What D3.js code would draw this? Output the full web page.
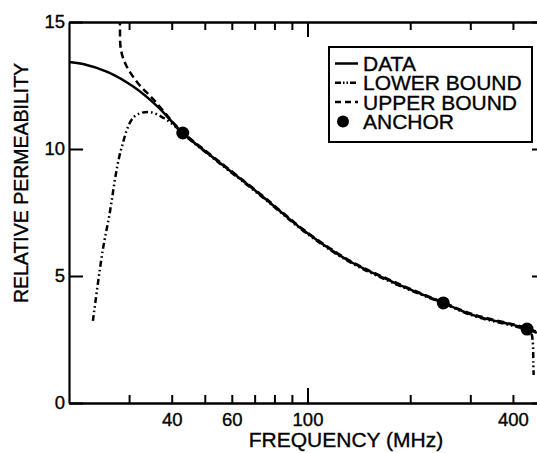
<!DOCTYPE html>
<html>
<head>
<meta charset="utf-8">
<script src="https://cdn.jsdelivr.net/npm/d3@7"></script>
<style>
  body { margin: 0; background: #fff; }
  svg { display: block; }
  text { font-family: "Liberation Sans", Arial, Helvetica, sans-serif; fill: #000; stroke: #000; stroke-width: 0.35px; }
</style>
</head>
<body>
<svg id="chart" width="537" height="453"></svg>
<script>
// measured data (MHz vs relative permeability)
const freqData = [20, 22, 26, 31, 36.5, 43.1, 55.7, 72.9, 84, 97.3, 130.9, 178, 250, 306, 433, 470];
const permData = [13.43, 13.35, 13.03, 12.44, 11.65, 10.63, 9.43, 8.19, 7.5, 6.8, 5.63, 4.76, 3.94, 3.46, 2.95, 2.76];

const freqLower = [23.5, 25.1, 26.2, 28.4, 31, 34.2, 37.9, 41.1, 43.1, 55.7, 72.9, 84, 97.3, 130.9, 178, 250, 306, 433, 452, 457, 459, 460];
const permLower = [3.23, 6.0, 7.32, 9.96, 11.26, 11.46, 11.22, 10.87, 10.6, 9.4, 8.16, 7.47, 6.77, 5.6, 4.73, 3.92, 3.43, 2.9, 2.75, 2.45, 1.6, 1.1];

const freqUpper = [28.1, 28.2, 28.4, 29.4, 31.8, 35.5, 39.8, 43.1, 55.7, 72.9, 84, 97.3, 130.9, 178, 250, 306, 433, 470];
const permUpper = [16, 14.9, 13.9, 13.3, 12.6, 11.93, 11.14, 10.66, 9.46, 8.22, 7.53, 6.83, 5.66, 4.79, 3.96, 3.49, 2.98, 2.8];

const freqAnchor = [43.1, 250, 440];
const permAnchor = [10.63, 3.94, 2.91];

const xMinorTicks = [30, 40, 50, 60, 70, 80, 90, 200, 300, 400];
const xMajorTicks = [100];
const xLabels = [40, 60, 100, 400];
const yTicks = [0, 5, 10, 15];

const svg = d3.select("#chart");
const m = { left: 69, right: 546, top: 22, bottom: 403 };

const x = d3.scaleLog().domain([20, 500]).range([m.left, m.right]);
const y = d3.scaleLinear().domain([0, 15]).range([m.bottom, m.top]);

svg.append("defs").append("clipPath").attr("id", "clip")
  .append("rect").attr("x", m.left).attr("y", m.top)
  .attr("width", m.right - m.left).attr("height", m.bottom - m.top);

function styleAxis(g) {
  g.selectAll("path.domain").attr("stroke", "#000").attr("stroke-width", 2.2);
  g.selectAll(".tick line").attr("stroke", "#000").attr("stroke-width", 2);
}

// bottom & top minor/major ticks
[[d3.axisBottom, m.bottom], [d3.axisTop, m.top]].forEach(([ax, pos]) => {
  const gMinor = svg.append("g").attr("transform", `translate(0,${pos})`)
    .call(ax(x).tickValues(xMinorTicks).tickSizeInner(-8).tickSizeOuter(0).tickFormat(""));
  styleAxis(gMinor);
  const gMajor = svg.append("g").attr("transform", `translate(0,${pos})`)
    .call(ax(x).tickValues(xMajorTicks).tickSizeInner(-15).tickSizeOuter(0).tickFormat(""));
  styleAxis(gMajor);
});

// x tick labels
const gxl = svg.append("g").attr("transform", `translate(0,${m.bottom})`)
  .call(d3.axisBottom(x).tickValues(xLabels).tickSize(0).tickPadding(10).tickFormat(d3.format("d")));
gxl.select("path.domain").remove();
gxl.attr("font-size", 18.5).attr("font-family", null);

// y axis left and right
const gy = svg.append("g").attr("transform", `translate(${m.left},0)`)
  .call(d3.axisLeft(y).tickValues(yTicks).tickSizeInner(-14).tickSizeOuter(0).tickPadding(4));
styleAxis(gy);
gy.attr("font-size", 18.5).attr("font-family", null);

const gyr = svg.append("g").attr("transform", `translate(${m.right},0)`)
  .call(d3.axisRight(y).tickValues(yTicks).tickSizeInner(-14).tickSizeOuter(0).tickFormat(""));
styleAxis(gyr);

// axis titles
svg.append("text").attr("x", 346).attr("y", 447)
  .attr("text-anchor", "middle").attr("font-size", 21)
  .text("FREQUENCY (MHz)");
svg.append("text").attr("transform", "translate(28,183) rotate(-90)")
  .attr("text-anchor", "middle").attr("font-size", 19.5)
  .text("RELATIVE PERMEABILITY");

// curves
const plot = svg.append("g").attr("clip-path", "url(#clip)");
const line = d3.line().x(d => x(d[0])).y(d => y(d[1])).curve(d3.curveCatmullRom.alpha(0.5));

const series = [
  { f: freqData, v: permData, dash: null },
  { f: freqLower, v: permLower, dash: "6,3,1.6,3,1.6,3" },
  { f: freqUpper, v: permUpper, dash: "7,4" }
];

series.forEach(s => {
  plot.append("path")
    .datum(d3.zip(s.f, s.v))
    .attr("fill", "none")
    .attr("stroke", "#000")
    .attr("stroke-width", 2.5)
    .attr("stroke-dasharray", s.dash)
    .attr("d", line);
});

plot.selectAll("circle.anchor")
  .data(d3.zip(freqAnchor, permAnchor))
  .enter().append("circle")
  .attr("class", "anchor")
  .attr("cx", d => x(d[0]))
  .attr("cy", d => y(d[1]))
  .attr("r", 6.5)
  .attr("fill", "#000");

// legend
const legend = svg.append("g");
legend.append("rect").attr("x", 329).attr("y", 47).attr("width", 203).attr("height", 95)
  .attr("fill", "#fff").attr("stroke", "#000").attr("stroke-width", 2);

const legendItems = [
  { label: "DATA", dash: null, dot: false },
  { label: "LOWER BOUND", dash: "6,2,1.5,2,1.5,2", dot: false },
  { label: "UPPER BOUND", dash: "6,4", dot: false },
  { label: "ANCHOR", dash: null, dot: true }
];

legendItems.forEach((it, i) => {
  const base = 71 + i * 19.3;
  if (it.dot) {
    legend.append("circle").attr("cx", 343).attr("cy", base - 7.5).attr("r", 6).attr("fill", "#000");
  } else {
    legend.append("line").attr("x1", 335).attr("x2", 358)
      .attr("y1", base - 7.5).attr("y2", base - 7.5)
      .attr("stroke", "#000").attr("stroke-width", 2.5)
      .attr("stroke-dasharray", it.dash);
  }
  legend.append("text").attr("x", 363).attr("y", base)
    .attr("font-size", 21).text(it.label);
});
</script>
</body>
</html>
